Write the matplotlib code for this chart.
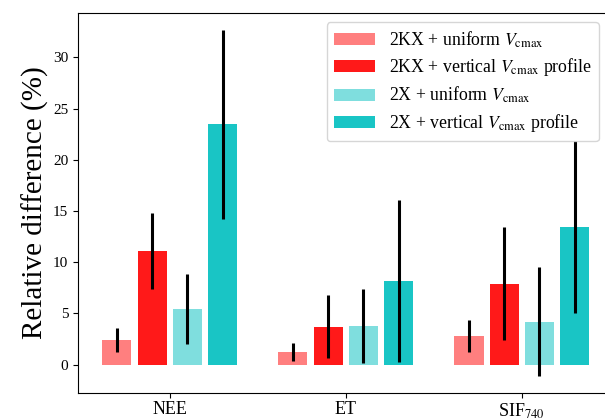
import numpy as np
import matplotlib
matplotlib.use("Agg")
import matplotlib.pyplot as plt

plt.rcParams['font.family'] = ['Liberation Serif', 'DejaVu Serif']
plt.rcParams['mathtext.fontset'] = 'stix'

# data
variables = ['NEE', 'ET', 'SIF$_{740}$']
labels = ['2KX + uniform $V_{\\mathrm{cmax}}$',
          '2KX + vertical $V_{\\mathrm{cmax}}$ profile',
          '2X + uniform $V_{\\mathrm{cmax}}$',
          '2X + vertical $V_{\\mathrm{cmax}}$ profile']
colors = ['red', 'red', 'c', 'c']
alphas = [0.5, 0.9, 0.5, 0.9]

kx_uniform = [2.4, 1.25, 2.8]
kx_uniform_err = [1.15, 0.88, 1.55]
kx_vertical = [11.1, 3.7, 7.9]
kx_vertical_err = [3.75, 3.05, 5.5]
x_uniform = [5.45, 3.8, 4.2]
x_uniform_err = [3.4, 3.6, 5.3]
x_vertical = [23.45, 8.2, 13.4]
x_vertical_err = [9.2, 7.9, 8.4]

means = [kx_uniform, kx_vertical, x_uniform, x_vertical]
errs = [kx_uniform_err, kx_vertical_err, x_uniform_err, x_vertical_err]

fig = plt.figure(figsize=(6.05, 4.2), dpi=100)
ax = fig.add_axes([0.129, 0.064, 0.885, 0.905])

x = np.arange(len(variables))
width = 0.165
offsets = [-0.3, -0.1, 0.1, 0.3]

for i in range(4):
    ax.bar(x + offsets[i], means[i], width, color=colors[i], alpha=alphas[i],
           label=labels[i])
    ax.errorbar(x + offsets[i], means[i], yerr=errs[i], fmt='none',
                ecolor='k', elinewidth=2.2, capsize=0)

ax.set_xticks(x)
ax.set_xticklabels(variables, fontsize=13)
ax.tick_params(axis='x', pad=2.5)
ax.tick_params(axis='y', labelsize=11)
ax.set_yticks([0, 5, 10, 15, 20, 25, 30])
ax.set_ylabel('Relative difference (%)', fontsize=21, labelpad=3)

ax.legend(loc='upper right', bbox_to_anchor=(599 / 605, 398 / 420),
          bbox_transform=fig.transFigure, borderaxespad=0, fontsize=12.8,
          handlelength=2.3, labelspacing=0.38)

fig.savefig('out.png', dpi=100)
